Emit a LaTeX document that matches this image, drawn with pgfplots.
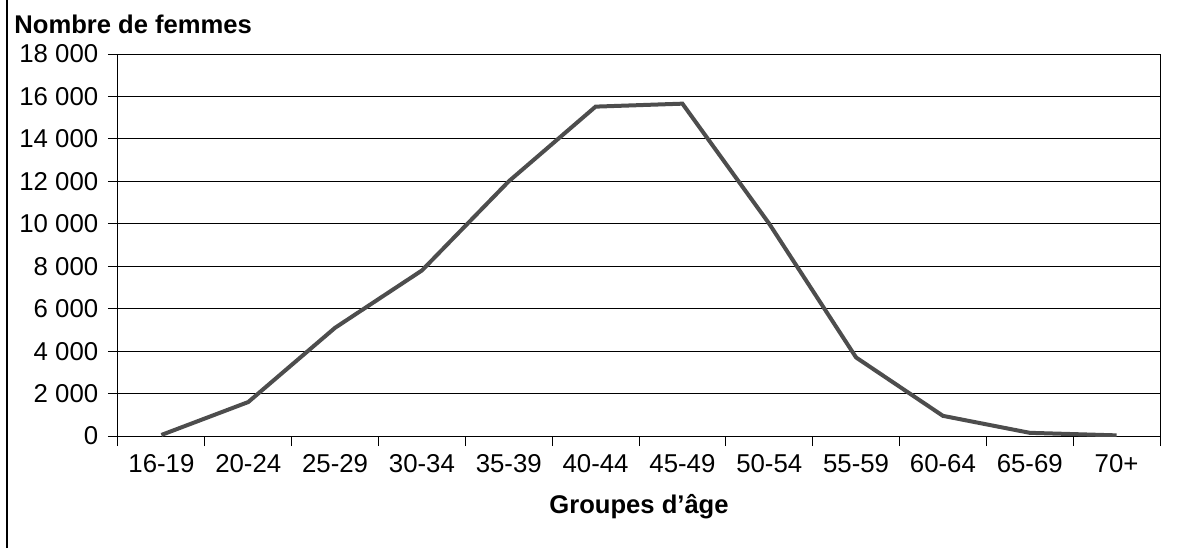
\documentclass[border=0pt]{standalone}
\usepackage{fontspec}
\setmainfont{Liberation Sans}
\usepackage{pgfplots}
\pgfplotsset{compat=1.18}
\begin{document}
\fontsize{11}{13}\selectfont
\begin{tikzpicture}
\path[use as bounding box] (-59pt,-56pt) rectangle (534pt,218pt);
\draw[line width=0.6pt] (-55.5pt,-56pt) -- (-55.5pt,218pt);
\begin{axis}[
  at={(0pt,0pt)}, anchor=south west,
  scale only axis, width=521pt, height=191pt,
  xmin=-0.5, xmax=11.5, ymin=0, ymax=18000,
  xtick={0,...,11},
  xticklabels={16-19,20-24,25-29,30-34,35-39,40-44,45-49,50-54,55-59,60-64,65-69,70+},
  minor xtick={-0.5,0.5,...,11.5},
  ytick={0,2000,...,18000},
  ymajorgrids, major grid style={black, line width=0.5pt},
  xtick pos=bottom, ytick pos=left,
  tick align=outside,
  major x tick style={draw=none},
  minor x tick style={black, line width=0.5pt},
  minor tick length=5pt,
  major y tick style={black, line width=0.5pt},
  major tick length=5pt,
  axis line style={black, line width=0.5pt},
  /pgf/number format/.cd, 1000 sep={\ }, assume math mode=true,
  /pgfplots/.cd,
  scaled y ticks=false,
  ticklabel style={font=\fontsize{12.9}{15}\selectfont},
  xticklabel style={yshift=-0.5pt},
  yticklabel style={xshift=-1pt},
]
\addplot[color={rgb,255:red,77;green,77;blue,77}, line width=2pt, line join=miter, mark=none]
  coordinates {(0,50) (1,1600) (2,5100) (3,7800) (4,12000) (5,15520) (6,15660) (7,10000) (8,3700) (9,950) (10,150) (11,30)};
\end{axis}
\node[anchor=base west, font=\bfseries\fontsize{12.8}{15}\selectfont, inner sep=0] at (-52pt,201.5pt) {Nombre de femmes};
\node[anchor=center, font=\bfseries\fontsize{12.8}{15}\selectfont] at (260.5pt,-35.5pt) {Groupes d’âge};
\end{tikzpicture}
\end{document}
